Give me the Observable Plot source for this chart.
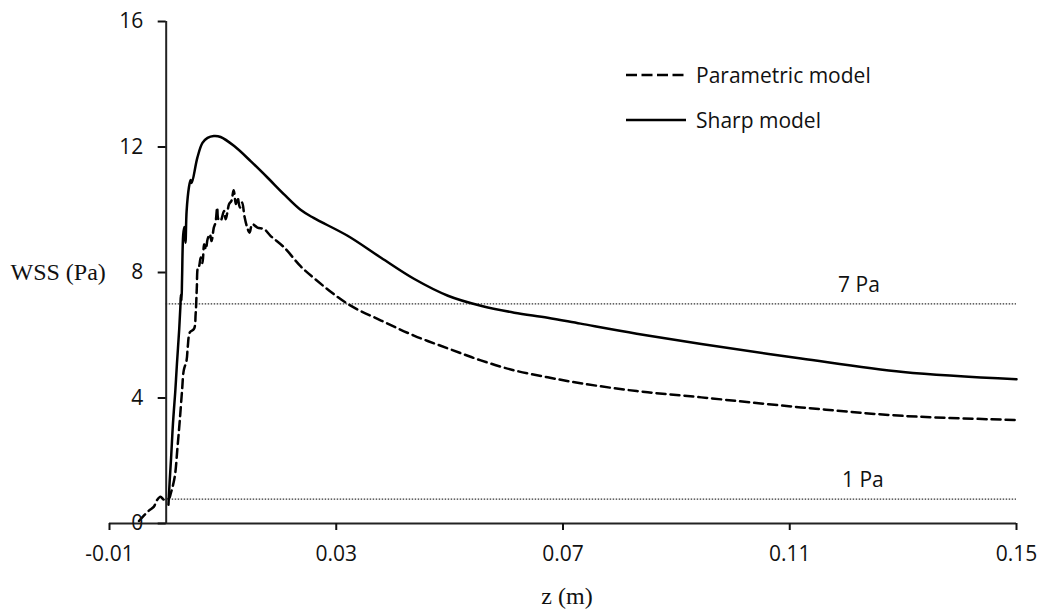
<!DOCTYPE html>
<html><head><meta charset="utf-8">
<script src="https://cdn.jsdelivr.net/npm/d3@7"></script>
<script src="https://cdn.jsdelivr.net/npm/@observablehq/plot@0.6"></script>
<style>
body{margin:0;background:#fff;}
#wrap{position:relative;width:1043px;height:615px;}
.leg{position:absolute;font-family:"Open Sans",sans-serif;font-size:21px;color:#111;display:flex;align-items:center;white-space:nowrap;}
.leg svg{margin-right:8px;}
</style></head><body><div id="wrap"></div>
<script>
// Sharp model (solid)
const sharpZ   = [0.0004,0.0006,0.0009,0.0012,0.0016,0.0019,0.0023,0.0025,0.0026,0.0027,0.0028,0.0030,0.0032,0.0034,0.0036,0.0040,0.0043,0.0045,0.0055,0.0064,0.0073,0.0084,0.0096,0.0120,0.0149,0.0179,0.0208,0.0237,0.0260,0.0320,0.0379,0.0437,0.0497,0.0555,0.0614,0.0673,0.0731,0.0830,0.0944,0.1120,0.1300,0.1500];
const sharpWSS = [0.6,1.3,2.2,3.2,4.2,5.1,6.2,6.9,7.3,7.1,7.8,9.2,9.45,8.95,9.95,10.7,10.95,10.85,11.66,12.13,12.29,12.35,12.32,12.03,11.55,11.02,10.49,10.0,9.74,9.17,8.47,7.8,7.26,6.94,6.72,6.56,6.37,6.05,5.72,5.26,4.83,4.6];
// Parametric model (dashed)
const paramZ   = [-0.0048,-0.0039,-0.0030,-0.0022,-0.0016,-0.0010,-0.0004,0.0005,0.0008,0.0015,0.0020,0.0024,0.0028,0.0031,0.0036,0.0038,0.0042,0.0049,0.0052,0.0054,0.0056,0.0058,0.0061,0.0064,0.0067,0.0070,0.0073,0.0077,0.0080,0.0084,0.0087,0.0090,0.0092,0.0096,0.0102,0.0105,0.0111,0.0115,0.0119,0.0123,0.0126,0.0130,0.0134,0.0138,0.0143,0.0147,0.0152,0.0161,0.0173,0.0184,0.0208,0.0237,0.0260,0.0320,0.0379,0.0437,0.0497,0.0555,0.0614,0.0673,0.0731,0.0830,0.0944,0.1120,0.1300,0.1500];
const paramWSS = [0.08,0.26,0.42,0.53,0.75,0.85,0.76,0.8,0.95,1.48,2.44,3.29,4.24,4.88,5.2,5.62,6.1,6.2,6.69,7.5,8.16,8.2,8.48,8.3,8.9,8.74,9.06,9.22,9.0,9.43,9.59,10.07,9.7,9.65,9.96,9.7,10.18,10.28,10.62,10.18,10.39,10.07,10.23,9.8,9.43,9.27,9.54,9.43,9.38,9.17,8.8,8.2,7.83,7.0,6.47,5.99,5.58,5.2,4.88,4.66,4.47,4.22,4.02,3.7,3.43,3.3];
// Reference thresholds
const refValues = [7, 0.78];
const refLabels = ["7 Pa", "1 Pa"];
const refLabelZ = [0.1222, 0.1229];
// Ticks
const xTicks = [-0.01, 0.03, 0.07, 0.11, 0.15];
const xTickLabels = ["-0.01", "0.03", "0.07", "0.11", "0.15"];
const yTicks = [0, 4, 8, 12, 16];
const yTickLabels = ["0", "4", "8", "12", "16"];
const seriesNames = ["Parametric model", "Sharp model"];

const sharp = sharpZ.map((z, i) => ({z, w: sharpWSS[i]}));
const param = paramZ.map((z, i) => ({z, w: paramWSS[i]}));
const refs = refValues.map((v, i) => ({v, t: refLabels[i], z: refLabelZ[i]}));

const width = 1043, height = 615, ml = 109, mr = 27, mt = 21, mb = 92;
const xDomain = [-0.01, 0.15], yDomain = [0, 16];
const yAxisDx = (0 - xDomain[0]) / (xDomain[1] - xDomain[0]) * (width - ml - mr);
const dashPattern = "9,5";
const fs = 21;

const chart = Plot.plot({
  width, height, marginLeft: ml, marginRight: mr, marginTop: mt, marginBottom: mb,
  x: {domain: xDomain},
  y: {domain: yDomain},
  style: {fontFamily: "'Open Sans', sans-serif", fontSize: fs + "px", color: "#111", background: "#fff", overflow: "visible"},
  marks: [
    Plot.ruleY(refs, {y: "v", x1: 0, x2: xDomain[1], stroke: "#333", strokeWidth: 1.3, strokeDasharray: "1.5,1.5"}),
    Plot.text(refs, {x: "z", y: "v", text: "t", dy: -19, fontSize: fs, fill: "#111"}),
    Plot.line(param, {x: "z", y: "w", stroke: "#000", strokeWidth: 2.5, strokeDasharray: dashPattern, curve: "catmull-rom"}),
    Plot.line(sharp, {x: "z", y: "w", stroke: "#000", strokeWidth: 2.5, curve: "catmull-rom"}),
    Plot.ruleY([0], {stroke: "#222", strokeWidth: 2}),
    Plot.ruleX([0], {stroke: "#222", strokeWidth: 2}),
    Plot.axisX({ticks: xTicks, tickSize: 7, tickPadding: 16, strokeWidth: 2, tickFormat: d => xTickLabels[xTicks.indexOf(d)], label: null, fontSize: fs}),
    Plot.axisY({ticks: yTicks, tickSize: 8, tickPadding: 15, strokeWidth: 2, dx: yAxisDx, tickFormat: d => yTickLabels[yTicks.indexOf(d)], label: null, fontSize: fs}),
    Plot.text(["WSS (Pa)"], {frameAnchor: "left", dx: -99, textAnchor: "start", fontFamily: "'Liberation Serif', serif", fontSize: 24, fill: "#111"}),
    Plot.text(["z (m)"], {frameAnchor: "bottom", dx: 4, dy: 80, lineAnchor: "bottom", fontFamily: "'Liberation Serif', serif", fontSize: 24, fill: "#111"})
  ]
});
const wrap = document.getElementById("wrap");
wrap.appendChild(chart);

// Legend (inside the plot area, as in the reference)
const legendItems = [
  {name: seriesNames[0], dash: dashPattern, top: 63},
  {name: seriesNames[1], dash: null, top: 108}
];
legendItems.forEach(item => {
  const div = document.createElement("div");
  div.className = "leg";
  div.style.left = "626px";
  div.style.top = item.top + "px";
  div.style.height = "24px";
  const svg = d3.create("svg").attr("width", 62).attr("height", 24);
  svg.append("line").attr("x1", 0).attr("x2", 60).attr("y1", 12).attr("y2", 12)
    .attr("stroke", "#000").attr("stroke-width", 2.4)
    .attr("stroke-dasharray", item.dash ? "11,4.5" : null);
  div.appendChild(svg.node());
  const span = document.createElement("span");
  span.textContent = item.name;
  div.appendChild(span);
  wrap.appendChild(div);
});
</script>
</body></html>
